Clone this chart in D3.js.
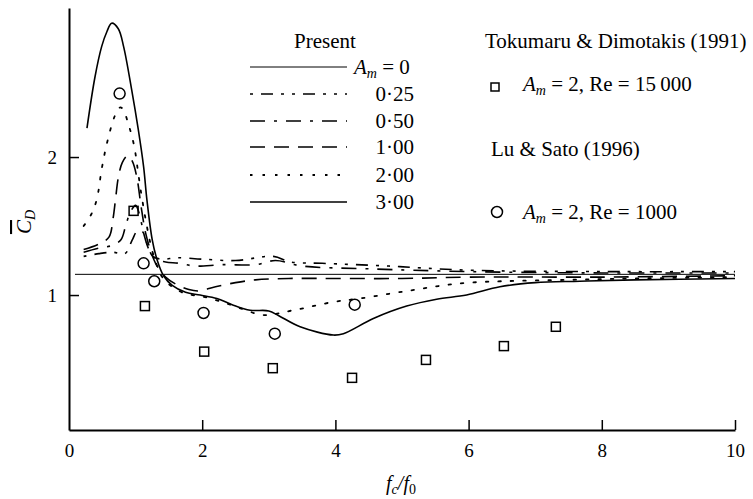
<!DOCTYPE html>
<html>
<head>
<meta charset="utf-8">
<script src="https://cdn.jsdelivr.net/npm/d3@7"></script>
<style>
  body { margin: 0; background: #fff; }
  svg, svg text { font-family: 'Liberation Serif', 'Times New Roman', 'DejaVu Serif', serif; }
</style>
</head>
<body>
<svg id="chart" width="753" height="499"></svg>
<script>
// present computations, mean drag vs. f_c/f_0 for each A_m
var xTicks = [0, 2, 4, 6, 8, 10];
var yTicks = [1, 2];

var cd000 = [[0.09, 1.15], [10, 1.15]];
var cd025 = [[0.22,1.28],[0.45,1.30],[0.66,1.31],[0.84,1.30],[0.95,1.40],[1.02,1.46],[1.10,1.46],[1.18,1.36],[1.26,1.28],[1.4,1.26],[1.62,1.27],[2.0,1.26],[2.5,1.25],[3.07,1.28],[3.32,1.24],[3.8,1.23],[4.8,1.21],[6.0,1.18],[8.0,1.17],[10.0,1.17]];
var cd050 = [[0.22,1.31],[0.45,1.34],[0.65,1.36],[0.78,1.40],[0.85,1.50],[0.92,1.60],[1.0,1.65],[1.06,1.58],[1.12,1.45],[1.2,1.33],[1.3,1.26],[1.45,1.24],[1.65,1.23],[1.9,1.21],[2.3,1.22],[2.8,1.22],[3.1,1.25],[3.5,1.21],[4.5,1.19],[6.0,1.17],[8.0,1.16],[10.0,1.16]];
var cd100 = [[0.22,1.33],[0.45,1.37],[0.60,1.42],[0.66,1.55],[0.70,1.70],[0.74,1.85],[0.80,1.96],[0.88,2.01],[0.95,1.97],[1.02,1.85],[1.08,1.65],[1.15,1.45],[1.22,1.33],[1.30,1.23],[1.45,1.13],[1.6,1.08],[1.8,1.04],[1.95,1.03],[2.2,1.06],[2.5,1.09],[2.8,1.11],[3.3,1.12],[4.0,1.12],[5.0,1.12],[6.0,1.13],[8.0,1.13],[10.0,1.14]];
var cd200 = [[0.22,1.50],[0.34,1.59],[0.42,1.70],[0.49,1.91],[0.57,2.10],[0.69,2.30],[0.77,2.36],[0.82,2.34],[0.89,2.24],[0.94,2.16],[0.99,2.05],[1.02,1.95],[1.08,1.75],[1.15,1.55],[1.22,1.38],[1.30,1.24],[1.40,1.13],[1.55,1.06],[1.75,1.01],[2.0,0.99],[2.3,0.95],[2.6,0.90],[2.92,0.855],[3.37,0.89],[3.97,0.95],[4.37,0.975],[4.82,1.01],[5.22,1.04],[5.62,1.07],[6.02,1.09],[6.5,1.10],[7.5,1.11],[8.5,1.12],[10.0,1.13]];
var cd300 = [[0.27,2.21],[0.39,2.58],[0.49,2.80],[0.57,2.91],[0.64,2.97],[0.74,2.93],[0.82,2.80],[0.94,2.49],[1.04,2.20],[1.12,1.93],[1.17,1.69],[1.25,1.40],[1.32,1.26],[1.42,1.14],[1.55,1.07],[1.75,1.02],[1.97,1.00],[2.22,0.975],[2.45,0.93],[2.72,0.89],[3.0,0.885],[3.15,0.85],[3.47,0.77],[3.97,0.71],[4.12,0.72],[4.57,0.83],[5.07,0.92],[5.52,0.97],[5.97,1.00],[6.47,1.06],[7.0,1.09],[7.67,1.10],[8.5,1.11],[10.0,1.12]];

// Tokumaru & Dimotakis (squares), Lu & Sato (circles)
var tokumaru = [[0.97,1.61],[1.14,0.92],[2.03,0.59],[3.06,0.47],[4.25,0.40],[5.36,0.53],[6.53,0.63],[7.31,0.77]];
var luSato = [[0.76,2.46],[1.12,1.23],[1.28,1.10],[2.02,0.87],[3.09,0.72],[4.29,0.93]];

var amLabels = ["0", "0\u00b725", "0\u00b750", "1\u00b700", "2\u00b700", "3\u00b700"];
var series = [cd000, cd025, cd050, cd100, cd200, cd300];
var dashes = [null, "3,8,12,8,3,8", "15,9,3,9", "15,9", "2.5,10", null];
var widths = [1, 1.6, 1.6, 1.6, 1.8, 1.6];

var serif = "'Liberation Serif', 'Times New Roman', 'DejaVu Serif', serif";
var svg = d3.select("#chart").attr("font-family", serif);

var x = d3.scaleLinear().domain([0, 10]).range([69, 735]);
var y = d3.scaleLinear().domain([0.022, 3.08]).range([430, 8]);

// axes
var xAxis = svg.append("g")
    .attr("transform", "translate(0," + y(0.022) + ")")
    .call(d3.axisBottom(x).tickValues(xTicks).tickFormat(d3.format("d"))
        .tickSizeInner(-10).tickSizeOuter(0).tickPadding(14));
var yAxis = svg.append("g")
    .attr("transform", "translate(" + x(0) + ",0)")
    .call(d3.axisLeft(y).tickValues(yTicks).tickFormat(d3.format("d"))
        .tickSizeInner(-10).tickSizeOuter(0).tickPadding(12));

[xAxis, yAxis].forEach(function (g) {
    g.attr("font-family", serif).attr("font-size", 19);
    g.select(".domain").attr("stroke", "#000").attr("stroke-width", 2);
    g.selectAll(".tick line").attr("stroke", "#000").attr("stroke-width", 1.5);
    g.selectAll(".tick text").attr("fill", "#000");
});
xAxis.selectAll(".tick").filter(function (d) { return d === 0; }).select("line").remove();

// axis titles
var xt = svg.append("text").attr("x", 401).attr("y", 490).attr("text-anchor", "middle").attr("font-size", 20);
xt.append("tspan").style("font-style", "italic").text("f");
xt.append("tspan").style("font-style", "italic").attr("font-size", 14).attr("dy", 4).text("c");
xt.append("tspan").attr("dy", -4).style("font-style", "italic").text("/f");
xt.append("tspan").attr("font-size", 14).attr("dy", 4).text("0");

var yt = svg.append("text").attr("transform", "translate(31,222) rotate(-90)")
    .attr("text-anchor", "middle").attr("font-size", 21);
yt.append("tspan").style("font-style", "italic").style("text-decoration", "overline").text("C");
yt.append("tspan").style("font-style", "italic").attr("font-size", 14).attr("dy", 4).text("D");

// curves
var line = d3.line().x(function (d) { return x(d[0]); }).y(function (d) { return y(d[1]); }).curve(d3.curveCatmullRom);

svg.append("g").selectAll("path")
    .data(series)
    .join("path")
    .attr("d", line)
    .attr("fill", "none")
    .attr("stroke", "#000")
    .attr("stroke-width", function (d, i) { return widths[i]; })
    .attr("stroke-dasharray", function (d, i) { return dashes[i]; })
    .attr("stroke-linecap", function (d, i) { return i === 4 ? "round" : "butt"; });

// experimental points
svg.append("g").selectAll("rect")
    .data(tokumaru)
    .join("rect")
    .attr("x", function (d) { return x(d[0]) - 4.5; })
    .attr("y", function (d) { return y(d[1]) - 4.5; })
    .attr("width", 9).attr("height", 9)
    .attr("fill", "none").attr("stroke", "#000").attr("stroke-width", 1.5);

svg.append("g").selectAll("circle")
    .data(luSato)
    .join("circle")
    .attr("cx", function (d) { return x(d[0]); })
    .attr("cy", function (d) { return y(d[1]); })
    .attr("r", 5.5)
    .attr("fill", "none").attr("stroke", "#000").attr("stroke-width", 1.5);

// legend: present
var lg = svg.append("g").attr("font-size", 21);
lg.append("text").attr("x", 325).attr("y", 48).attr("text-anchor", "middle").text("Present");
var rowY = [67, 94, 121, 147, 175, 202];
lg.selectAll("line.key")
    .data(amLabels)
    .join("line")
    .attr("class", "key")
    .attr("x1", 250).attr("x2", 347)
    .attr("y1", function (d, i) { return rowY[i]; })
    .attr("y2", function (d, i) { return rowY[i]; })
    .attr("stroke", "#000")
    .attr("stroke-width", function (d, i) { return widths[i]; })
    .attr("stroke-dasharray", function (d, i) { return dashes[i]; });
lg.selectAll("text.val")
    .data(amLabels.slice(1))
    .join("text")
    .attr("class", "val")
    .attr("x", 414)
    .attr("y", function (d, i) { return rowY[i + 1] + 7; })
    .attr("text-anchor", "end")
    .text(function (d) { return d; });

function amText(g, xx, yy, rest) {
    var t = g.append("text").attr("x", xx).attr("y", yy);
    t.append("tspan").style("font-style", "italic").text("A");
    t.append("tspan").style("font-style", "italic").attr("font-size", 14).attr("dy", 4).text("m");
    t.append("tspan").attr("dy", -4).text(rest);
    return t;
}
amText(lg, 354, 74, " = 0");

// legend: experiments
var rg = svg.append("g").attr("font-size", 21);
rg.append("text").attr("x", 485).attr("y", 48).text("Tokumaru & Dimotakis (1991)");
rg.append("rect").attr("x", 491).attr("y", 83).attr("width", 8).attr("height", 8)
    .attr("fill", "none").attr("stroke", "#000").attr("stroke-width", 1.5);
amText(rg, 523, 91, " = 2, Re =  15\u2009000");
rg.append("text").attr("x", 491).attr("y", 156).text("Lu & Sato (1996)");
rg.append("circle").attr("cx", 497).attr("cy", 212).attr("r", 5.5)
    .attr("fill", "none").attr("stroke", "#000").attr("stroke-width", 1.5);
amText(rg, 523, 219, " = 2, Re = 1000");
</script>
</body>
</html>
